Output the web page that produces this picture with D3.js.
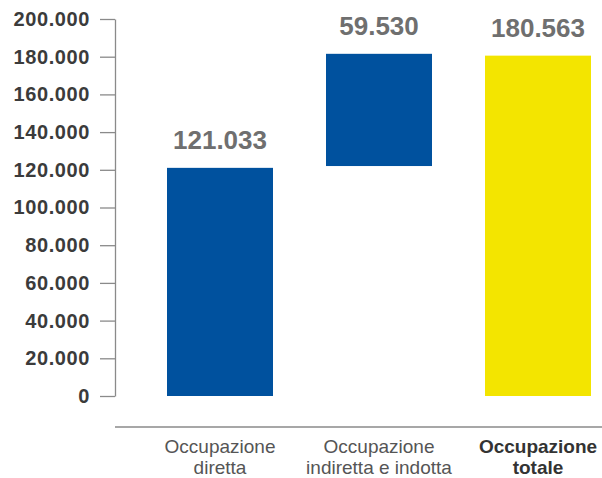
<!DOCTYPE html>
<html>
<head>
<meta charset="utf-8">
<script src="https://cdn.jsdelivr.net/npm/d3@7"></script>
<style>
  body { margin: 0; background: #fff; }
  text { font-family: "Liberation Sans", Arial, Helvetica, sans-serif; }
</style>
</head>
<body>
<div id="chart"></div>
<script>
'use strict';

// categories (two lines each) and values
var categories = ['diretta', 'indiretta', 'totale'];
var labelLines = [['Occupazione', 'diretta'], ['Occupazione', 'indiretta e indotta'], ['Occupazione', 'totale']];
var values = [121033, 59530, 180563];
var starts = [0, 122000, 0];   // waterfall base of each bar, as drawn in the picture
var barColors = ['#00519e', '#00519e', '#f3e500'];
var boldLabel = [false, false, true];
var yTicks = [0, 20000, 40000, 60000, 80000, 100000, 120000, 140000, 160000, 180000, 200000];

var width = 602, height = 478;

// italian number format: 200.000
var it = d3.formatLocale({ decimal: ',', thousands: '.', grouping: [3], currency: ['€', ''] });
var fmt = it.format(',d');

var svg = d3.select('#chart').append('svg')
    .attr('width', width)
    .attr('height', height);

var y = d3.scaleLinear()
    .domain([0, 200000])
    .range([396, 19]);

var x = d3.scaleBand()
    .domain(categories)
    .range([140.5, 617.5])
    .paddingInner(1 / 3)
    .paddingOuter(1 / 6);

// y axis
var yAxis = svg.append('g')
    .attr('transform', 'translate(115,0)')
    .call(d3.axisLeft(y).tickValues(yTicks).tickFormat(fmt).tickSize(15).tickSizeOuter(0).tickPadding(10));

yAxis.select('.domain').attr('stroke', '#8a8a8a').attr('stroke-width', 1.3);
yAxis.selectAll('.tick line').attr('stroke', '#8a8a8a').attr('stroke-width', 1.3);
yAxis.selectAll('.tick text')
    .attr('fill', '#3b3b3b')
    .style('font-size', '20px')
    .style('font-weight', 'bold')
    .style('letter-spacing', '0.6px')
    .style('font-family', '"Liberation Sans", Arial, sans-serif');

// bottom baseline
svg.append('line')
    .attr('x1', 115).attr('x2', width)
    .attr('y1', 427).attr('y2', 427)
    .attr('stroke', '#8a8a8a')
    .attr('stroke-width', 1.3);

// bars
svg.selectAll('rect.bar')
    .data(categories)
    .enter()
    .append('rect')
    .attr('class', 'bar')
    .attr('x', function(d) { return x(d); })
    .attr('width', x.bandwidth())
    .attr('y', function(d, i) { return y(starts[i] + values[i]); })
    .attr('height', function(d, i) { return y(starts[i]) - y(starts[i] + values[i]); })
    .attr('fill', function(d, i) { return barColors[i]; });

// value labels
svg.selectAll('text.val')
    .data(categories)
    .enter()
    .append('text')
    .attr('class', 'val')
    .attr('x', function(d) { return x(d) + x.bandwidth() / 2; })
    .attr('y', function(d, i) { return y(starts[i] + values[i]) - 19; })
    .attr('text-anchor', 'middle')
    .attr('fill', '#6f6f6f')
    .style('font-size', '26px')
    .style('font-weight', 'bold')
    .text(function(d, i) { return fmt(values[i]); });

// category labels
var cat = svg.selectAll('text.cat')
    .data(categories)
    .enter()
    .append('text')
    .attr('class', 'cat')
    .attr('x', function(d) { return x(d) + x.bandwidth() / 2; })
    .attr('y', 453)
    .attr('text-anchor', 'middle')
    .attr('fill', function(d, i) { return boldLabel[i] ? '#333' : '#555'; })
    .style('font-size', '19px')
    .style('font-weight', function(d, i) { return boldLabel[i] ? 'bold' : 'normal'; });

cat.each(function(d, i) {
    var t = d3.select(this);
    labelLines[i].forEach(function(line, k) {
        t.append('tspan')
            .attr('x', x(d) + x.bandwidth() / 2)
            .attr('dy', k === 0 ? 0 : 21)
            .text(line);
    });
});
</script>
</body>
</html>
